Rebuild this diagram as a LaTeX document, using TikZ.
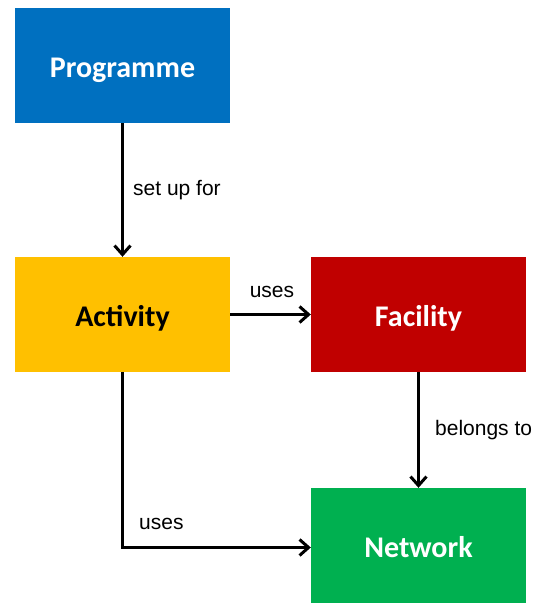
\documentclass[tikz,border=0pt]{standalone}
\usepackage{fontspec}
\setmainfont{Liberation Sans}
\newfontfamily\boxfont{Carlito}
\usetikzlibrary{arrows.meta}
\definecolor{progblue}{RGB}{0,112,192}
\definecolor{actyellow}{RGB}{255,192,0}
\definecolor{facred}{RGB}{192,0,0}
\definecolor{netgreen}{RGB}{0,176,80}

\begin{document}
\begin{tikzpicture}[x=1pt, y=-1pt, >={Straight Barb[length=9pt, width=16pt, line width=3pt]},
  entity/.style={minimum width=215pt, minimum height=115pt, inner sep=0pt,
    text height=28pt, text depth=5pt,
    font=\boxfont\fontsize{30}{36}\selectfont\bfseries},
  link/.style={draw=black, line width=3pt, ->},
  lbl/.style={font=\fontsize{21}{25}\selectfont, inner sep=0pt}]
\useasboundingbox (0,0) rectangle (540,603);
\node[entity, fill=progblue, text=white] (Prog) at (122.5, 65.5) {Programme};
\node[entity, fill=actyellow, text=black] (Act) at (122.5, 314.5) {Activity};
\node[entity, fill=facred, text=white] (Fac) at (418.5, 314.5) {Facility};
\node[entity, fill=netgreen, text=white] (Net) at (418.5, 545.5) {Network};
\draw [link] (Prog) -- (Act) ;
\draw [link] (Act) -- (Fac) ;
\draw [link] (Fac) -- (Net) ;
\draw [link] (Act.south) |- ([yshift=-2pt]Net.west) ;
\node[lbl, anchor=west] (LSet) at (133, 190) {set up for};
\node[lbl] (LUse1) at (272, 292) {uses};
\node[lbl, anchor=west] (LBel) at (435, 430) {belongs to};
\node[lbl, anchor=west] (LUse2) at (139, 524) {uses};
\end{tikzpicture}
\end{document}
